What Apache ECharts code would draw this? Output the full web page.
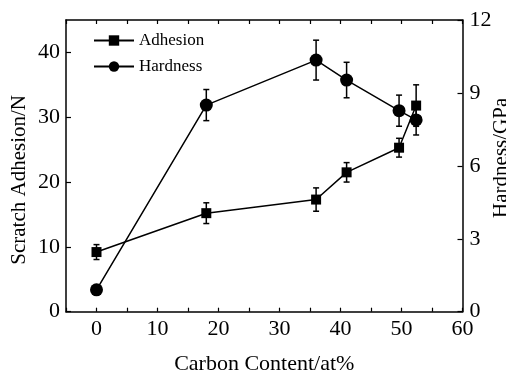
<!DOCTYPE html>
<html>
<head>
<meta charset="utf-8">
<script src="https://cdn.jsdelivr.net/npm/echarts@6/dist/echarts.min.js"></script>
<style>
  html, body { margin: 0; padding: 0; background: #fff; }
  #chart { width: 506px; height: 376px; }
</style>
</head>
<body>
<div id="chart"></div>
<script>
// 碳含量 (at%)
const carbon = [0, 18, 36, 41, 49.6, 52.4]
// 划痕结合力 (N) 及误差
const adhesion = [9.2, 15.2, 17.3, 21.5, 25.3, 31.8]
const adhesionErr = [1.15, 1.6, 1.8, 1.5, 1.45, 3.2]
// 硬度 (GPa) 及误差
const hardness = [0.9, 8.5, 10.35, 9.53, 8.27, 7.89]
const hardnessErr = [0, 0.64, 0.82, 0.73, 0.64, 0.62]

const font = "Liberation Serif"

//误差棒绘制
function errorBar(params, api) {
  const x = api.value(0)
  const y = api.value(1)
  const e = api.value(2)
  if (!e) return
  const top = api.coord([x, y + e])
  const bot = api.coord([x, y - e])
  const cap = 3
  const style = { stroke: "#000", lineWidth: 1.5 }
  return {
    type: "group",
    children: [
      { type: "line", shape: { x1: top[0], y1: top[1], x2: bot[0], y2: bot[1] }, style },
      { type: "line", shape: { x1: top[0] - cap, y1: top[1], x2: top[0] + cap, y2: top[1] }, style },
      { type: "line", shape: { x1: bot[0] - cap, y1: bot[1], x2: bot[0] + cap, y2: bot[1] }, style }
    ]
  }
}

const axisLine = { show: true, onZero: false, lineStyle: { color: "#000", width: 1.5 } }
const tick = { show: true, inside: true, length: 4, lineStyle: { color: "#000", width: 1.2 } }

const option = {
  animation: false,
  grid: { left: 66, right: 43.5, top: 20, bottom: 64.3, outerBoundsMode: "none", containLabel: false },
  legend: {
    orient: "vertical",
    left: 93,
    top: 32,
    padding: 0,
    itemWidth: 40,
    itemHeight: 13,
    itemGap: 9,
    data: ["Adhesion", "Hardness"],
    textStyle: { fontFamily: font, fontSize: 17, color: "#000" }
  },
  xAxis: [
    {
      type: "value",
      min: -5,
      max: 60,
      interval: 5,
      axisLine: axisLine,
      axisTick: tick,
      splitLine: { show: false },
      axisLabel: {
        margin: 7,
        fontFamily: font,
        fontSize: 22,
        color: "#000",
        formatter: v => (v % 10 === 0 ? v : "")
      },
      name: "Carbon Content/at%",
      nameLocation: "middle",
      nameGap: 42,
      nameMoveOverlap: false,
      nameTextStyle: { fontFamily: font, fontSize: 22, color: "#000" }
    },
    {
      type: "value",
      position: "top",
      min: -5,
      max: 60,
      interval: 5,
      axisLine: axisLine,
      axisTick: tick,
      splitLine: { show: false },
      axisLabel: { show: false }
    }
  ],
  yAxis: [
    {
      type: "value",
      min: 0,
      max: 45,
      interval: 10,
      axisLine: axisLine,
      axisTick: Object.assign({}, tick, { length: 5 }),
      splitLine: { show: false },
      axisLabel: {
        margin: 6,
        showMaxLabel: false,
        fontFamily: font,
        fontSize: 22,
        color: "#000"
      },
      name: "Scratch Adhesion/N",
      nameLocation: "middle",
      nameGap: 36,
      nameMoveOverlap: false,
      nameTextStyle: { fontFamily: font, fontSize: 21, color: "#000", padding: [0, 28, 0, 0] }
    },
    {
      type: "value",
      position: "right",
      min: 0,
      max: 12,
      interval: 3,
      axisLine: axisLine,
      axisTick: Object.assign({}, tick, { length: 5 }),
      splitLine: { show: false },
      axisLabel: { margin: 7, fontFamily: font, fontSize: 22, color: "#000" },
      name: "Hardness/GPa",
      nameLocation: "middle",
      nameRotate: 90,
      nameGap: 28,
      nameMoveOverlap: false,
      nameTextStyle: { fontFamily: font, fontSize: 21, color: "#000", padding: [0, 0, 0, 16] }
    }
  ],
  series: [
    {
      name: "adhesionErr",
      type: "custom",
      xAxisIndex: 0,
      yAxisIndex: 0,
      z: 1,
      renderItem: errorBar,
      data: carbon.map((c, i) => [c, adhesion[i], adhesionErr[i]])
    },
    {
      name: "hardnessErr",
      type: "custom",
      xAxisIndex: 0,
      yAxisIndex: 1,
      z: 1,
      renderItem: errorBar,
      data: carbon.map((c, i) => [c, hardness[i], hardnessErr[i]])
    },
    {
      name: "Adhesion",
      type: "line",
      xAxisIndex: 0,
      yAxisIndex: 0,
      z: 3,
      symbol: "rect",
      symbolSize: 10,
      showAllSymbol: true,
      itemStyle: { color: "#000" },
      lineStyle: { color: "#000", width: 1.5 },
      data: carbon.map((c, i) => [c, adhesion[i]])
    },
    {
      name: "Hardness",
      type: "line",
      xAxisIndex: 0,
      yAxisIndex: 1,
      z: 3,
      symbol: "circle",
      symbolSize: 13,
      showAllSymbol: true,
      itemStyle: { color: "#000" },
      lineStyle: { color: "#000", width: 1.5 },
      data: carbon.map((c, i) => [c, hardness[i]])
    }
  ]
}

const chartEl = echarts.init(document.getElementById("chart"))
chartEl.setOption(option)
</script>
</body>
</html>
